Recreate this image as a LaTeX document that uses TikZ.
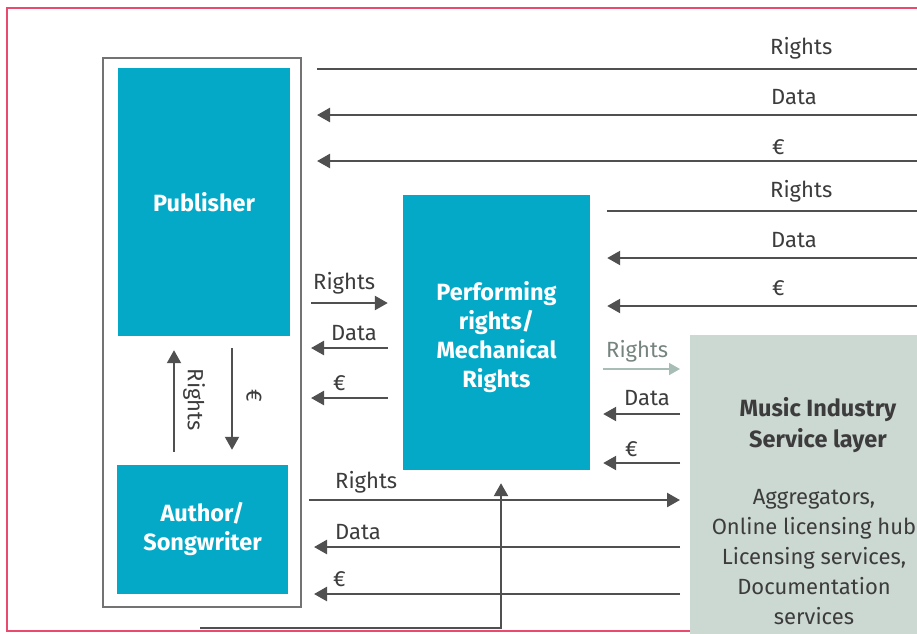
\documentclass[tikz,border=0pt]{standalone}
\usepackage{fontspec}
\setmainfont{Fira Sans}
\usetikzlibrary{arrows.meta,calc}
\definecolor{cyanbox}{HTML}{05A9C8}
\definecolor{servbox}{HTML}{CCD8D2}
\definecolor{frame}{HTML}{E94B6E}
\definecolor{linegrey}{HTML}{505050}
\definecolor{txtgrey}{HTML}{3C3C3C}
\definecolor{softarrow}{HTML}{A8BDB5}
\tikzset{
  bluebox/.style={draw=none,fill=cyanbox,text=white,font=\fontsize{23.5}{29}\selectfont\bfseries,align=center,inner sep=0pt},
  flow/.style={draw=linegrey,line width=2.4pt,-{Triangle[length=13pt,width=14pt]}},
  plainflow/.style={draw=linegrey,line width=2.4pt},
  softflow/.style={draw=softarrow,line width=1.8pt,-{Triangle[length=11pt,width=12pt]}},
  lbl/.style={anchor=west,text=txtgrey,font=\fontsize{22}{24}\selectfont,inner sep=0pt},
  softlbl/.style={lbl,text=softarrow!70!black},
  servtext/.style={text=txtgrey,align=center,font=\fontsize{22}{30}\selectfont,inner sep=0pt}
}
\begin{document}
\begin{tikzpicture}[x=1pt,y=-1pt]
\useasboundingbox (0,0) rectangle (917,633);
\begin{scope}
\clip (0,0) rectangle (917,633);
% page frame
\draw[frame,line width=1.6pt] (950,8) -- (7,8) -- (7,631) -- (950,631);
% service layer box
\node[fill=servbox,minimum width=260pt,minimum height=330pt,inner sep=0pt,anchor=north west] (serv) at (690,335) {};
\node[servtext,font=\fontsize{23.5}{31}\selectfont\bfseries] (servtitle) at (818,425) {Music Industry\\Service layer};
\node[servtext] (servlist) at (814,557) {Aggregators,\\Online licensing hub\\Licensing services,\\Documentation\\services};
% outer box
\node[draw=linegrey!80,line width=2pt,minimum width=198pt,minimum height=549pt,inner sep=0pt] (outer) at (202,332.5) {};
\node[bluebox,minimum width=172pt,minimum height=268pt] (pub) at (204,202) {Publisher};
\node[bluebox,minimum width=171pt,minimum height=129pt] (auth) at (202.5,529.5) {Author/\\Songwriter};
\node[bluebox,minimum width=187pt,minimum height=275pt] (perf) at (496.5,332.5) {};
\node[text=white,font=\fontsize{23.5}{29}\selectfont\bfseries,align=center,inner sep=0pt] (perftext) at ([yshift=-5pt]perf.center) {Performing\\rights/\\Mechanical\\Rights};
% free ends at the right edge
\coordinate (r1) at (930,69);
\coordinate (r2) at (930,115);
\coordinate (r3) at (930,161);
\coordinate (r4) at (930,211);
\coordinate (r5) at (930,258);
\coordinate (r6) at (930,306);
\coordinate (src) at (200,628);
% top rows to publisher
\draw[plainflow,shorten <=15pt] (outer.east |- r1) -- (r1);
\draw[flow,shorten >=15pt] (r2) -- (outer.east |- r2);
\draw[flow,shorten >=15pt] (r3) -- (outer.east |- r3);
% rows to performing rights
\draw[plainflow,shorten <=17pt] (perf.east |- r4) -- (r4);
\draw[flow,shorten >=17pt] (r5) -- (perf.east |- r5);
\draw[flow,shorten >=17pt] (r6) -- (perf.east |- r6);
\node[lbl] (l1) at (770,48) {Rights};
\node[lbl] (l2) at (771,97) {Data};
\node[lbl] (l3) at (772,147) {€};
\node[lbl] (l4) at (770,191) {Rights};
\node[lbl] (l5) at (771,240) {Data};
\node[lbl] (l6) at (772,288) {€};
% publisher <-> performing
\draw[flow,shorten <=9pt,shorten >=15pt] (outer.east |- 0,303) -- (perf.west |- 0,303);
\draw[flow,shorten <=15pt,shorten >=9pt] (perf.west |- 0,348) -- (outer.east |- 0,348);
\draw[flow,shorten <=15pt,shorten >=9pt] (perf.west |- 0,398) -- (outer.east |- 0,398);
\node[lbl] (l7) at (313,283) {Rights};
\node[lbl] (l8) at (331,333) {Data};
\node[lbl] (l9) at (333,383) {€};
% performing <-> service
\draw[softflow,shorten <=13pt,shorten >=10pt] (perf.east |- 0,369) -- (serv.west |- 0,369);
\draw[flow,shorten <=10pt,shorten >=13pt] (serv.west |- 0,414) -- (perf.east |- 0,414);
\draw[flow,shorten <=10pt,shorten >=13pt] (serv.west |- 0,463) -- (perf.east |- 0,463);
\node[softlbl] (l10) at (606,351) {Rights};
\node[lbl] (l11) at (624,398) {Data};
\node[lbl] (l12) at (625,449) {€};
% publisher/author <-> service
\draw[flow,shorten <=7pt,shorten >=10pt] (outer.east |- 0,500) -- (serv.west |- 0,500);
\draw[flow,shorten <=10pt,shorten >=12pt] (serv.west |- 0,547) -- (outer.east |- 0,547);
\draw[flow,shorten <=10pt,shorten >=12pt] (serv.west |- 0,594) -- (outer.east |- 0,594);
\node[lbl] (l13) at (335,482) {Rights};
\node[lbl] (l14) at (335,532) {Data};
\node[lbl] (l15) at (333,579) {€};
% feed up into performing rights
\draw[flow,shorten >=13pt] (src) -| ([xshift=4.5pt]perf.south);
% publisher <-> author
\draw[flow,line width=2pt,shorten <=13pt,shorten >=14pt] (174,0 |- auth.north) -- (174,0 |- pub.south);
\draw[flow,line width=2pt,shorten <=12pt,shorten >=15pt] (232,0 |- pub.south) -- (232,0 |- auth.north);
\node[lbl,anchor=center,rotate=-90] (l16) at (194,400) {Rights};
\node[lbl,anchor=center,rotate=-90] (l17) at (254,396) {€};
\end{scope}
\end{tikzpicture}
\end{document}
